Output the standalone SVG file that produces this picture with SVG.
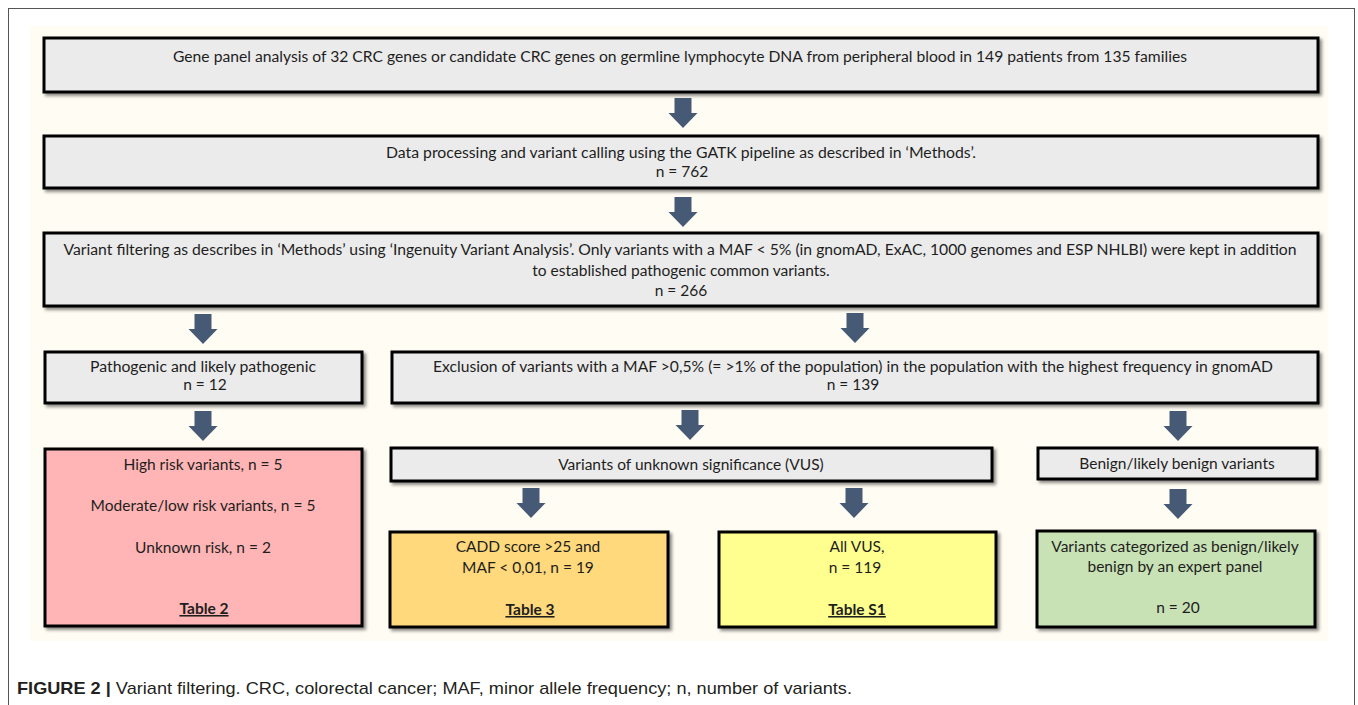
<svg xmlns="http://www.w3.org/2000/svg" width="1358" height="705" viewBox="0 0 1358 705">
<defs>
<filter id="sh" x="-5%" y="-20%" width="110%" height="140%">
<feDropShadow dx="2.5" dy="2.5" stdDeviation="1.5" flood-color="#000" flood-opacity="0.45"/>
</filter>
<path id="arr" d="M-8.5,0 H8.5 V15 H14.5 L0,30 L-14.5,15 H-8.5 Z"/>
</defs>
<style>
.box{stroke:#000;stroke-width:3;filter:url(#sh)}
.g{fill:#EBEBEB}
.t{font-family:Lato,"Open Sans","Liberation Sans",sans-serif;font-size:15.5px;fill:#1e1e1e;text-anchor:middle}
.u{font-weight:bold;text-decoration:underline}
.a{fill:#475a75}
.cap{font-family:"Liberation Sans",Arial,sans-serif;font-size:17px;fill:#231f20}
</style>
<rect x="0" y="0" width="1358" height="705" fill="#fff"/>
<rect x="8.5" y="8.5" width="1346" height="720" fill="none" stroke="#555" stroke-width="1"/>
<rect x="30" y="26" width="1298" height="615" fill="#FFFCF3"/>

<g id="connectors">
<use href="#arr" class="a" x="683" y="98"/>
<use href="#arr" class="a" x="683" y="197"/>
<use href="#arr" class="a" x="203" y="314"/>
<use href="#arr" class="a" x="855" y="313"/>
<use href="#arr" class="a" x="203" y="411"/>
<use href="#arr" class="a" x="690" y="410"/>
<use href="#arr" class="a" x="1178" y="411"/>
<use href="#arr" class="a" x="531" y="488"/>
<use href="#arr" class="a" x="854" y="488"/>
<use href="#arr" class="a" x="1178" y="489"/>
</g>

<g id="n1">
<rect class="box g" x="44" y="38" width="1274" height="54"/>
<text class="t" x="680" y="62" textLength="1014" lengthAdjust="spacingAndGlyphs">Gene panel analysis of 32 CRC genes or candidate CRC genes on germline lymphocyte DNA from  peripheral blood in 149 patients from 135 families</text>
</g>
<g id="n2">
<rect class="box g" x="44" y="136" width="1274" height="52"/>
<text class="t" x="681" y="158" textLength="590" lengthAdjust="spacingAndGlyphs">Data processing and variant calling using the GATK pipeline as described in ‘Methods’.</text>
<text class="t" x="682" y="177">n =  762</text>
</g>
<g id="n3">
<rect class="box g" x="44" y="233" width="1274" height="73"/>
<text class="t" x="680" y="255" textLength="1233" lengthAdjust="spacingAndGlyphs">Variant filtering as describes in ‘Methods’  using ‘Ingenuity Variant Analysis’. Only variants with a MAF &lt; 5% (in gnomAD,  ExAC, 1000 genomes and ESP NHLBI) were kept in addition</text>
<text class="t" x="681" y="276">to established pathogenic common  variants.</text>
<text class="t" x="681" y="296">n = 266</text>
</g>
<g id="n4">
<rect class="box g" x="45" y="352" width="317" height="51"/>
<text class="t" x="203" y="372" textLength="226" lengthAdjust="spacingAndGlyphs">Pathogenic and likely pathogenic</text>
<text class="t" x="205" y="390">n = 12</text>
</g>
<g id="n5">
<rect class="box g" x="392" y="352" width="926" height="51"/>
<text class="t" x="853" y="372" textLength="840" lengthAdjust="spacingAndGlyphs">Exclusion of variants with a MAF &gt;0,5% (= &gt;1% of the population) in the population with the highest frequency in gnomAD</text>
<text class="t" x="853" y="390">n = 139</text>
</g>
<g id="n6">
<rect class="box" fill="#FFB5B5" x="45" y="449" width="317" height="177"/>
<text class="t" x="203" y="470">High risk variants, n = 5</text>
<text class="t" x="203" y="511">Moderate/low  risk variants, n = 5</text>
<text class="t" x="203" y="553">Unknown  risk, n = 2</text>
<text class="t u" x="204" y="614">Table 2</text>
</g>
<g id="n7">
<rect class="box g" x="391" y="448" width="601" height="33"/>
<text class="t" x="691" y="470">Variants of unknown  significance (VUS)</text>
</g>
<g id="n8">
<rect class="box g" x="1038" y="448" width="279" height="31"/>
<text class="t" x="1177" y="469">Benign/likely benign variants</text>
</g>
<g id="n9">
<rect class="box" fill="#FFD97B" x="390" y="532" width="278" height="95"/>
<text class="t" x="528" y="552">CADD score &gt;25 and</text>
<text class="t" x="528" y="573">MAF &lt; 0,01, n = 19</text>
<text class="t u" x="530" y="615">Table 3</text>
</g>
<g id="n10">
<rect class="box" fill="#FFFF8F" x="719" y="532" width="277" height="95"/>
<text class="t" x="857" y="552">All VUS,</text>
<text class="t" x="855" y="573">n = 119</text>
<text class="t u" x="857" y="615">Table S1</text>
</g>
<g id="n11">
<rect class="box" fill="#C8E1B5" x="1037" y="531" width="278" height="96"/>
<text class="t" x="1175" y="552">Variants categorized as benign/likely</text>
<text class="t" x="1175" y="572">benign by an expert panel</text>
<text class="t" x="1178" y="613">n = 20</text>
</g>

<text class="cap" x="17" y="694" textLength="835" lengthAdjust="spacingAndGlyphs"><tspan font-weight="bold">FIGURE 2 |</tspan> Variant filtering. CRC, colorectal cancer; MAF, minor allele frequency; n, number of variants.</text>
</svg>
